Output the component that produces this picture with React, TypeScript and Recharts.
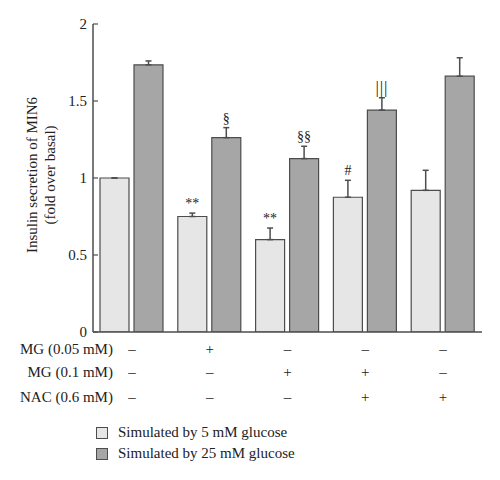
import React from "react";
import { BarChart, Bar, XAxis, YAxis, ErrorBar, LabelList, Legend } from "recharts";

const groups = ["g1", "g2", "g3", "g4", "g5"];
const low = [1.0, 0.75, 0.6, 0.875, 0.92];
const lowErr = [0, 0.022, 0.075, 0.11, 0.13];
const high = [1.735, 1.262, 1.126, 1.441, 1.661];
const highErr = [0.025, 0.065, 0.08, 0.08, 0.12];
const lowMarks = ["", "**", "**", "#", ""];
const highMarks = ["", "§", "§§", "|||", ""];
const rowLabels = ["MG (0.05 mM)", "MG (0.1 mM)", "NAC (0.6 mM)"];
const mg005 = ["–", "+", "–", "–", "–"];
const mg01 = ["–", "–", "+", "+", "–"];
const nac = ["–", "–", "–", "+", "+"];
const rows = [mg005, mg01, nac];
const yTicks = [0, 0.5, 1, 1.5, 2];
const seriesNames = ["Simulated by 5 mM glucose", "Simulated by 25 mM glucose"];

const LIGHT = "#e6e6e6";
const DARK = "#a6a6a6";
const STROKE = "#4d4d4d";
const FONT = "'Liberation Serif', 'Times New Roman', serif";
const TEXT = "#222";

const data = groups.map((g, i) => ({
  group: g,
  low: low[i],
  lowErr: [0, lowErr[i]],
  high: high[i],
  highErr: [0, highErr[i]],
  lowMark: lowMarks[i],
  highMark: highMarks[i],
}));

const XTick = (props: any) => {
  const { x, y, payload } = props;
  const idx = payload.index;
  const offs = [22, 45, 70];
  return (
    <g>
      {rows.map((r, k) => (
        <text key={k} x={x} y={y + offs[k]} textAnchor="middle" fontSize={15} fontFamily={FONT} fill={TEXT}>
          {r[idx]}
        </text>
      ))}
      {idx === 0 &&
        rowLabels.map((l, k) => (
          <text key={"l" + k} x={x - 19} y={y + offs[k]} textAnchor="end" fontSize={15} fontFamily={FONT} fill={TEXT}>
            {l}
          </text>
        ))}
    </g>
  );
};

const YTick = (props: any) => {
  const { x, y, payload } = props;
  const ax = x + 6;
  return (
    <g>
      <line x1={ax} x2={ax + 5} y1={y} y2={y} stroke={STROKE} strokeWidth={1.2} />
      <text x={x} y={y + 5} textAnchor="end" fontSize={15} fontFamily={FONT} fill={TEXT}>
        {String(payload.value)}
      </text>
    </g>
  );
};

const makeMark = (vals: number[], errs: number[]) => (props: any) => {
  const { x, y, width, height, value, index } = props;
  if (!value) return null;
  const pxPerUnit = height / vals[index];
  const top = y - errs[index] * pxPerUnit;
  const isBars = value === "|||";
  return (
    <text
      x={x + width / 2}
      y={top - 5}
      textAnchor="middle"
      fontSize={isBars ? 17 : 14}
      fontFamily={FONT}
      fill={TEXT}
      letterSpacing={isBars ? 0.8 : 0}
    >
      {value}
    </text>
  );
};

const YLabel = (props: any) => {
  const vb = props.viewBox;
  const cy = vb.y + vb.height / 2 - 3;
  const x1 = vb.x - 1;
  const x2 = vb.x + 17;
  return (
    <g>
      <text x={x1} y={cy} transform={`rotate(-90 ${x1} ${cy})`} textAnchor="middle" dominantBaseline="central" fontSize={15} fontFamily={FONT} fill={TEXT}>
        Insulin secretion of MIN6
      </text>
      <text x={x2} y={cy} transform={`rotate(-90 ${x2} ${cy})`} textAnchor="middle" dominantBaseline="central" fontSize={15} fontFamily={FONT} fill={TEXT}>
        (fold over basal)
      </text>
    </g>
  );
};

const LegendContent = () => (
  <div style={{ fontFamily: FONT, fontSize: 15, color: TEXT, paddingLeft: 63 }}>
    {seriesNames.map((n, i) => (
      <div key={n} style={{ display: "flex", alignItems: "center", height: 21 }}>
        <span
          style={{
            display: "inline-block",
            width: 10,
            height: 10,
            border: `1px solid ${STROKE}`,
            background: i === 0 ? LIGHT : DARK,
            marginRight: 10,
          }}
        />
        <span>{n}</span>
      </div>
    ))}
  </div>
);

export default function App() {
  return (
    <div style={{ width: 500, height: 480, background: "#fff" }}>
      <BarChart
        width={500}
        height={480}
        data={data}
        margin={{ top: 16, right: 26, bottom: 22, left: 25 }}
        barGap={5}
        barCategoryGap={7}
      >
        <XAxis
          dataKey="group"
          height={90}
          axisLine={{ stroke: STROKE, strokeWidth: 1.5 }}
          tickLine={false}
          tickSize={0}
          tickMargin={0}
          tick={<XTick />}
          interval={0}
        />
        <YAxis
          domain={[0, 2]}
          ticks={yTicks}
          width={60}
          axisLine={{ stroke: STROKE, strokeWidth: 1.5 }}
          tickLine={false}
          tickSize={0}
          tickMargin={6}
          tick={<YTick />}
          label={{ content: <YLabel /> }}
          allowDataOverflow
        />
        <Legend content={<LegendContent />} height={44} />
        <Bar dataKey="low" name={seriesNames[0]} fill={LIGHT} stroke={STROKE} strokeWidth={1.2} isAnimationActive={false}>
          <ErrorBar dataKey="lowErr" width={3} stroke={STROKE} strokeWidth={1.5} direction="y" />
          <LabelList dataKey="lowMark" content={makeMark(low, lowErr)} />
        </Bar>
        <Bar dataKey="high" name={seriesNames[1]} fill={DARK} stroke={STROKE} strokeWidth={1.2} isAnimationActive={false}>
          <ErrorBar dataKey="highErr" width={3} stroke={STROKE} strokeWidth={1.5} direction="y" />
          <LabelList dataKey="highMark" content={makeMark(high, highErr)} />
        </Bar>
      </BarChart>
    </div>
  );
}
